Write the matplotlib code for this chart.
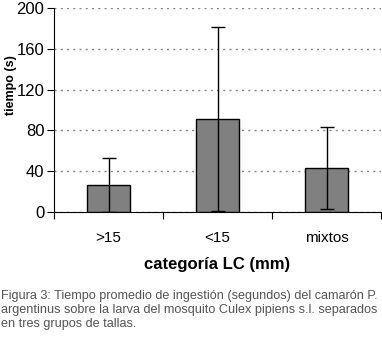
import matplotlib.pyplot as plt

categorias = ['>15', '<15', 'mixtos']
tiempo_medio = [26, 91, 43]
desvio = [27, 90, 40]

plt.rcParams['font.family'] = ['Liberation Sans', 'DejaVu Sans']

fig = plt.figure(figsize=(3.82, 3.47), dpi=100)
ax = fig.add_axes([54 / 382, 1 - 212 / 347, 327 / 382, 204 / 347])

x = list(range(len(categorias)))
lower = [min(m, d) for m, d in zip(tiempo_medio, desvio)]
ax.bar(x, tiempo_medio, width=0.4, color='#808080', edgecolor='black', linewidth=1, zorder=3)
ax.errorbar(x, tiempo_medio, yerr=[lower, desvio], fmt='none', ecolor='black',
            elinewidth=1, capsize=5, capthick=1, zorder=4)

ax.set_xlim(-0.5, 2.5)
ax.set_ylim(0, 200)
ax.set_yticks(range(0, 201, 40))
ax.set_xticks([-0.5, 0.5, 1.5, 2.5])
ax.set_xticklabels([])
ax.set_xticks(x, minor=True)
ax.set_xticklabels(categorias, minor=True, fontsize=11)
ax.tick_params(axis='x', which='minor', length=0, pad=14)
ax.tick_params(axis='x', which='major', length=5, direction='out')
ax.tick_params(axis='y', length=5, labelsize=12, pad=2)
ax.yaxis.grid(True, linestyle=(0, (1.5, 3)), color='#888888', linewidth=1, zorder=0)
ax.spines['top'].set_visible(False)
ax.spines['right'].set_visible(False)

ax.set_ylabel('tiempo (s)', fontweight='bold', fontsize=9)
ax.yaxis.set_label_coords(-0.112, 0.62)
ax.set_xlabel('categoría LC (mm)', fontweight='bold', fontsize=12, labelpad=8)

caption = ('Figura 3: Tiempo promedio de ingestión (segundos) del camarón P.\n'
           'argentinus sobre la larva del mosquito Culex pipiens s.l. separados\n'
           'en tres grupos de tallas.')
fig.text(0.003, 1 - 290 / 347, caption, fontsize=9.1, color='#555555', va='top',
         linespacing=1.25)

fig.savefig('out.png', dpi=100)
